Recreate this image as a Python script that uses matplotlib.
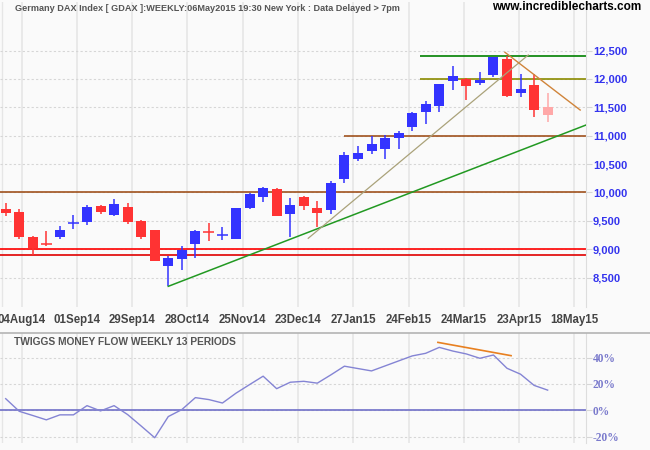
import numpy as np
import matplotlib.pyplot as plt

# weekly DAX candles
opens = [9711, 9658, 9220, 9100, 9225, 9452, 9488, 9764, 9611, 9746,
         9501, 9343, 8699, 8822, 9085, 9310, 9245, 9173, 9734, 9927,
         10062, 9618, 9922, 9729, 9694, 10237, 10588, 10734, 10764, 10956,
         11155, 11413, 11523, 11962, 11997, 11921, 12062, 12354, 11751, 11886,
         11505]
highs = [9811, 9706, 9238, 9325, 9413, 9606, 9781, 9781, 9887, 9811,
         9518, 9343, 8874, 9062, 9343, 9471, 9401, 9723, 9990, 10097,
         10079, 9909, 9930, 9852, 10202, 10716, 10816, 10992, 11004, 11079,
         11410, 11605, 11904, 12225, 12021, 12114, 12390, 12412, 12079, 12091,
         11751]
lows = [9588, 9185, 8904, 9050, 9185, 9366, 9431, 9629, 9588, 9453,
        9185, 8787, 8348, 8641, 8839, 9150, 9167, 9173, 9711, 9839,
        9594, 9225, 9694, 9390, 9624, 10162, 10553, 10676, 10593, 10769,
        11079, 11207, 11413, 11798, 11623, 11891, 12040, 11681, 11681, 11330,
        11242]
closes = [9646, 9208, 9015, 9090, 9343, 9462, 9746, 9664, 9799, 9488,
          9208, 8787, 8852, 8987, 9325, 9296, 9257, 9723, 9979, 10074,
          9594, 9781, 9769, 9646, 10167, 10658, 10693, 10851, 10956, 11049,
          11400, 11553, 11904, 12044, 11874, 11974, 12383, 11698, 11816, 11448,
          11365]

# Twiggs money flow (13 weeks), percent
tmf = [8.8, -0.8, -4.0, -7.3, -3.5, -3.5, 3.5, -0.5, 3.5, -3.3,
       -12.0, -20.9, -4.8, 0.5, 9.6, 8.1, 5.5, 13.0, 19.5, 25.9,
       16.4, 21.3, 22.0, 20.6, 26.9, 33.5, 31.7, 29.9, 33.7, 37.5,
       41.3, 43.3, 47.8, 45.0, 42.8, 39.5, 42.0, 31.9, 27.4, 18.9,
       15.3]

week_labels = ['04Aug14', '01Sep14', '29Sep14', '28Oct14', '25Nov14', '23Dec14',
               '27Jan15', '24Feb15', '24Mar15', '23Apr15', '18May15']
price_ticks = [8500, 9000, 9500, 10000, 10500, 11000, 11500, 12000, 12500]
tmf_ticks = [-20, 0, 20, 40]

# support / resistance levels and where they start (bar index)
levels = [12400, 12000, 11000, 10000, 9000, 8900]
level_start = [30.6, 30.6, 25.0, -0.5, -0.5, -0.5]
level_colors = ['#008000', '#8b8b00', '#a0521e', '#a0521e', '#ff0000', '#e00000']

# trend lines: (bar, price) end points
green_trend = [(12, 8348), (42.83, 11188)]
khaki_trend = [(22.33, 9194), (38.57, 12421)]
orange_trend = [(36.85, 12468), (42.4, 11452)]
tmf_trend = [(31.9, 51.6), (37.3, 41.5)]

bg = '#fafafa'
up_col, down_col, last_col = '#3333ff', '#ff3333', '#ffa8a8'
plt.rcParams['font.family'] = ['Liberation Sans', 'DejaVu Sans']

fig = plt.figure(figsize=(6.5, 4.5), dpi=100, facecolor=bg)
ax = fig.add_axes([0, 1 - 307 / 450, 586 / 650, 305 / 450], facecolor=bg)
ax2 = fig.add_axes([0, 1 - 443 / 450, 586 / 650, 109.7 / 450], facecolor=bg)

n = len(opens)
idx = np.arange(n)
o, h, l, c = map(np.array, (opens, highs, lows, closes))
xmin, xmax = -0.42, 42.83
grid_x = 1.17 + 4.08 * np.arange(len(week_labels))

for a in (ax, ax2):
    a.set_xlim(xmin, xmax)
    a.set_xticks(grid_x)
    a.grid(axis='x', color='#e6e6e6', lw=1.2)
    a.grid(axis='y', color='#d6d6d6', lw=0.8, ls=(0, (2, 2)))
    a.set_axisbelow(True)
    for s in a.spines.values():
        s.set_visible(False)
    a.spines['right'].set_visible(True)
    a.spines['right'].set_color('#dddddd')
    a.axvline(-0.3, color='#e6e6e6', lw=1.0, zorder=0)
    a.yaxis.tick_right()
    a.tick_params(axis='y', length=4, color='#d6d6d6', pad=1)
    a.tick_params(axis='x', length=0)

# candles
colors = [up_col if cc >= oo else down_col for oo, cc in zip(opens, closes)]
colors[-1] = last_col
doji = np.abs(c - o) < 30
body_h = np.where(doji, 0, np.abs(c - o))
ax.bar(idx, body_h, bottom=np.minimum(o, c), width=0.74, color=colors, linewidth=0, zorder=3)
ax.vlines(idx, l, h, colors=colors, lw=1.1, zorder=3)
ax.hlines((o + c)[doji] / 2, idx[doji] - 0.41, idx[doji] + 0.41,
          colors=np.array(colors)[doji], lw=1.1, zorder=3)

for lev, x0, col in zip(levels, level_start, level_colors):
    ax.hlines(lev, x0, xmax, colors=col, lw=1.2, zorder=2)

for pts, col, lw in [(green_trend, '#229922', 1.1), (khaki_trend, '#aaa27a', 0.9),
                     (orange_trend, '#d0843a', 1.0)]:
    xs, ys = zip(*pts)
    ax.plot(xs, ys, color=col, lw=lw, zorder=4)

ax.set_ylim(7984, 13354)
ax.set_yticks(price_ticks)
ax.set_yticklabels([f'{t:,}' for t in price_ticks], color='#3333ee',
                   fontsize=8, fontweight='bold')
ax.set_xticklabels(week_labels, color='#444444', fontsize=8.3, fontweight='bold')
ax.tick_params(axis='x', pad=5)

# money flow panel
ax2.plot(idx, tmf, color='#8484d4', lw=1.0, zorder=3)
ax2.axhline(0, color='#7070c8', lw=1.2, zorder=2)
xs, ys = zip(*tmf_trend)
ax2.plot(xs, ys, color='#e88020', lw=1.2, zorder=4)
ax2.set_ylim(-24.9, 58.5)
ax2.set_yticks(tmf_ticks)
ax2.set_yticklabels([f'{t}%' for t in tmf_ticks], color='#7a7acc', fontsize=8.3,
                    fontweight='bold', family='Liberation Serif')
ax2.set_xticklabels([])

fig.add_artist(plt.Line2D([0, 1], [1 - 333.3 / 450] * 2, color='#b4b4b4', lw=1.2))

fig.text(15 / 650, 1 - 8.3 / 450,
         'Germany DAX Index [ GDAX ]:WEEKLY:06May2015 19:30 New York : Data Delayed > 7pm',
         ha='left', va='center', color='#555555', fontsize=6.6, fontweight='bold')
fig.text(641 / 650, 1 - 7.3 / 450, 'www.incrediblecharts.com', ha='right', va='center',
         color='#000000', fontsize=8.5, fontweight='bold')
fig.text(14.5 / 650, 1 - 342 / 450, 'TWIGGS MONEY FLOW WEEKLY 13 PERIODS',
         ha='left', va='center', color='#555555', fontsize=7.4, fontweight='bold')

fig.savefig('out.png', dpi=100, facecolor=bg)
